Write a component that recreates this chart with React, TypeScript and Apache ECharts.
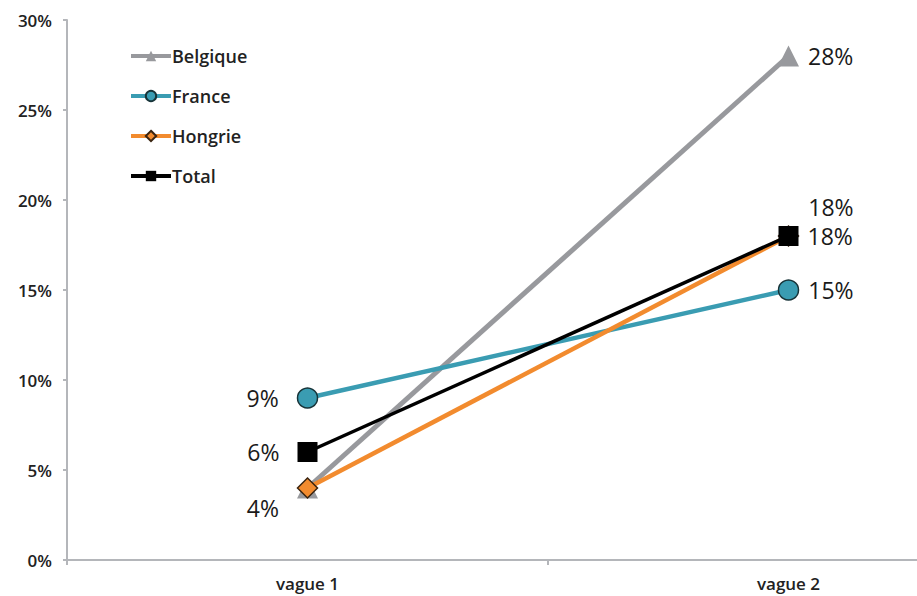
import React, { useEffect, useRef } from "react";
import * as echarts from "echarts";

const categories = ["vague 1", "vague 2"];
const belgique = [4, 28];
const france = [9, 15];
const hongrie = [4, 18];
const total = [6, 18];
const yTicks = [0, 5, 10, 15, 20, 25, 30];

const FONT = "'Open Sans', 'Noto Sans', sans-serif";

export default function App() {
  const ref = useRef<HTMLDivElement>(null);
  useEffect(() => {
    const chart = echarts.init(ref.current!, undefined, { renderer: "svg" });
    const lblBase = {
      show: true,
      fontFamily: FONT,
      fontSize: 23,
      color: "#1a1a1a",
      formatter: (p: any) => p.value + "%",
    };
    const leftLbl = (extra: any = {}) => ({ ...lblBase, position: "left", distance: 18, ...extra });
    const rightLbl = (extra: any = {}) => ({ ...lblBase, position: "right", distance: 9, ...extra });
    chart.setOption({
      animation: false,
      grid: { left: 67, top: 20, height: 540, width: 962, containLabel: false },
      legend: {
        orient: "vertical",
        left: 124,
        top: 42,
        itemWidth: 40,
        itemHeight: 13,
        itemGap: 22,
        lineStyle: { width: 4 },
        textStyle: { fontFamily: FONT, fontSize: 18, fontWeight: 600, color: "#222", lineHeight: 18, padding: [0, 0, 0, -4] },
        data: ["Belgique", "France", "Hongrie", "Total"],
      },
      xAxis: {
        type: "category",
        data: categories,
        boundaryGap: true,
        axisLine: { lineStyle: { color: "#b4b6ba", width: 2 } },
        axisTick: { show: true, length: 5, lineStyle: { color: "#b4b6ba", width: 2 } },
        axisLabel: { fontFamily: FONT, fontSize: 17, fontWeight: 600, color: "#222", margin: 15 },
      },
      yAxis: {
        type: "value",
        min: yTicks[0],
        max: yTicks[yTicks.length - 1],
        interval: 5,
        splitLine: { show: false },
        axisLine: { show: true, lineStyle: { color: "#b4b6ba", width: 2 } },
        axisTick: { show: true, length: 4, lineStyle: { color: "#b4b6ba", width: 2 } },
        axisLabel: { fontFamily: FONT, fontSize: 17, fontWeight: 600, color: "#222", margin: 15, formatter: "{value}%" },
      },
      series: [
        {
          name: "Belgique",
          type: "line",
          symbol: "triangle",
          symbolSize: 21,
          color: "#98999d",
          lineStyle: { color: "#98999d", width: 5 },
          itemStyle: { color: "#98999d" },
          data: [
            { value: belgique[0], label: leftLbl({ offset: [0, 20] }) },
            { value: belgique[1], label: rightLbl() },
          ],
        },
        {
          name: "France",
          type: "line",
          symbol: "circle",
          symbolSize: 20,
          color: "#3a9cb2",
          lineStyle: { color: "#3a9cb2", width: 4.5 },
          itemStyle: { color: "#3a9cb2", borderColor: "#173338", borderWidth: 1.5 },
          data: [
            { value: france[0], label: leftLbl() },
            { value: france[1], label: rightLbl() },
          ],
        },
        {
          name: "Hongrie",
          type: "line",
          symbol: "diamond",
          symbolSize: 20,
          color: "#f28b2e",
          lineStyle: { color: "#f28b2e", width: 4.5 },
          itemStyle: { color: "#f28b2e", borderColor: "#3a2410", borderWidth: 1.5 },
          data: [
            { value: hongrie[0], label: { show: false } },
            { value: hongrie[1], label: rightLbl({ offset: [0, -29] }) },
          ],
        },
        {
          name: "Total",
          type: "line",
          symbol: "rect",
          symbolSize: 20,
          color: "#000",
          lineStyle: { color: "#000", width: 3.5 },
          itemStyle: { color: "#000" },
          data: [
            { value: total[0], label: leftLbl() },
            { value: total[1], label: rightLbl() },
          ],
        },
      ],
    });
    return () => chart.dispose();
  }, []);
  return (
    <div style={{ width: 917, height: 596, position: "absolute", left: 0, top: 0, overflow: "hidden", background: "#fff" }}>
      <div ref={ref} style={{ width: 1040, height: 596 }} />
    </div>
  );
}
